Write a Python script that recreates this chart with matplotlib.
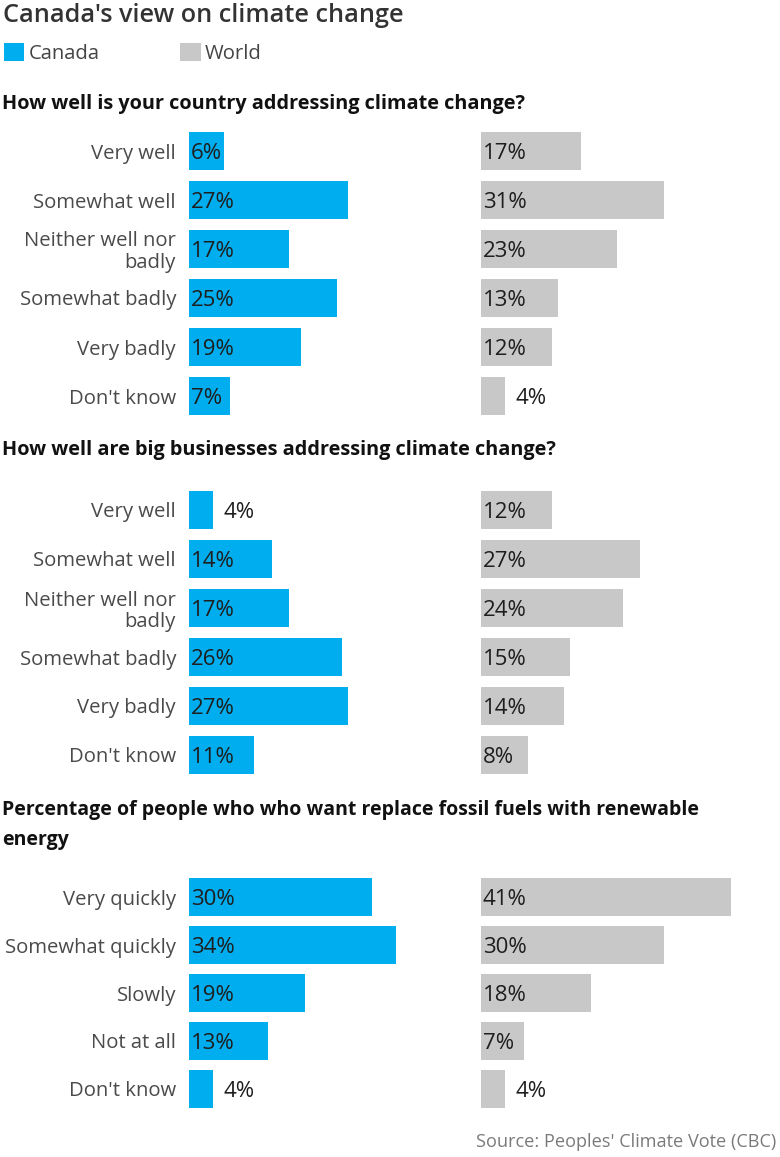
import matplotlib
matplotlib.use("Agg")
import matplotlib.pyplot as plt
from matplotlib.patches import Patch

plt.rcParams['font.family'] = ['Open Sans', 'DejaVu Sans']

# ---------------- data ----------------
title = "Canada's view on climate change"
series_names = ["Canada", "World"]

q1_title = "How well is your country addressing climate change?"
q1_categories = ["Very well", "Somewhat well", "Neither well nor\nbadly",
                 "Somewhat badly", "Very badly", "Don't know"]
q1_canada = [6, 27, 17, 25, 19, 7]
q1_world = [17, 31, 23, 13, 12, 4]

q2_title = "How well are big businesses addressing climate change?"
q2_categories = ["Very well", "Somewhat well", "Neither well nor\nbadly",
                 "Somewhat badly", "Very badly", "Don't know"]
q2_canada = [4, 14, 17, 26, 27, 11]
q2_world = [12, 27, 24, 15, 14, 8]

q3_title = ("Percentage of people who who want replace fossil fuels with renewable\n"
            "energy")
q3_categories = ["Very quickly", "Somewhat quickly", "Slowly", "Not at all", "Don't know"]
q3_canada = [30, 34, 19, 13, 4]
q3_world = [41, 30, 18, 7, 4]

source = "Source: Peoples' Climate Vote (CBC)"

# ---------------- style ----------------
W, H = 780, 1157
DPI = 100
BLUE = "#00ADEE"
GRAY = "#C8C8C8"
LABEL_C = "#4A4A4A"
VALUE_C = "#1E1E1E"
FS_CAT = 14.6
FS_VAL = 16.0
FS_HEAD = 14.3

fig = plt.figure(figsize=(W / DPI, H / DPI), dpi=DPI)


def fx(x):
    return x / W


def fy(y):
    return 1 - y / H


def px_axes(left, top, width, height):
    return fig.add_axes([left / W, 1 - (top + height) / H, width / W, height / H])


fig.text(fx(3), fy(16), title, fontsize=18.2, color="#333333",
         fontweight="semibold", ha="left", va="center")

handles = [Patch(facecolor=BLUE, edgecolor="none"), Patch(facecolor=GRAY, edgecolor="none")]
fig.legend(handles, series_names, loc="upper left", bbox_to_anchor=(fx(4), fy(43)),
           ncol=2, frameon=False, fontsize=14.6, handlelength=1.0, handleheight=1.0,
           handletextpad=0.2, columnspacing=4.0, borderpad=0, borderaxespad=0,
           labelcolor="#444444")

sections = [
    (q1_title, q1_categories, q1_canada, q1_world, 104, 151, 49, 5.9, 0.76, FS_HEAD),
    (q2_title, q2_categories, q2_canada, q2_world, 450, 510, 49, 5.9, 0.76, FS_HEAD),
    (q3_title, q3_categories, q3_canada, q3_world, 825, 897, 48, 6.1, 0.79, 14.0),
]

for head, cats, can, wor, head_y, first_y, sp, ppp, bh, hfs in sections:
    fig.text(fx(2), fy(head_y), head, fontsize=hfs, fontweight="bold", color="#111111",
             ha="left", va="center", linespacing=1.6)
    n = len(cats)
    top = first_y - sp / 2
    height = n * sp
    for left, width, vals, color, is_first in [(189, 270, can, BLUE, True),
                                               (481, 299, wor, GRAY, False)]:
        ax = px_axes(left, top, width, height)
        ypos = list(range(n))
        ax.barh(ypos, vals, height=bh, color=color, edgecolor="none")
        ax.set_ylim(n - 0.5, -0.5)
        ax.set_xlim(0, width / ppp)
        for s in ax.spines.values():
            s.set_visible(False)
        ax.set_xticks([])
        if is_first:
            ax.set_yticks(ypos)
            ax.set_yticklabels(cats, fontsize=FS_CAT, color=LABEL_C, linespacing=1.1)
            ax.tick_params(axis="y", length=0, pad=9.4)
        else:
            ax.set_yticks([])
        for i, v in enumerate(vals):
            if v >= 5:
                ax.annotate(f"{v}%", (0, i), xytext=(1.4, 0), textcoords="offset points",
                            ha="left", va="center_baseline", fontsize=FS_VAL, color=VALUE_C)
            else:
                ax.annotate(f"{v}%", (v, i), xytext=(7.5, 0), textcoords="offset points",
                            ha="left", va="center_baseline", fontsize=FS_VAL, color=VALUE_C)
        ax.patch.set_alpha(0)

fig.text(fx(776), fy(1142), source, fontsize=13.1, color="#7A7A7A", ha="right", va="center")

fig.savefig("out.png", dpi=DPI)
